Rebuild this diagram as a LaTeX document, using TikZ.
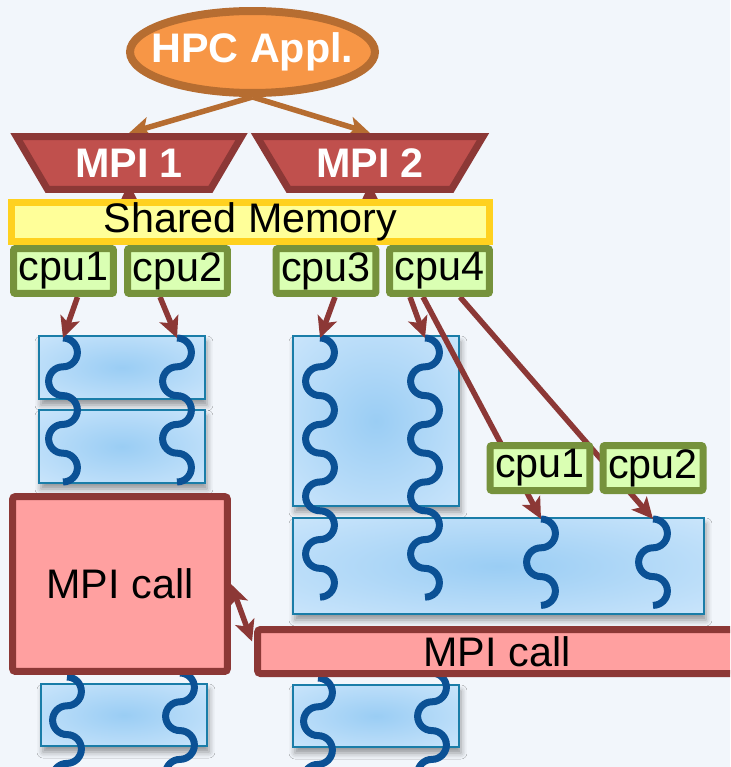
\documentclass[tikz,border=0pt]{standalone}
\usepackage{fontspec}
\setmainfont{Liberation Sans}
\usepackage{xcolor}
\usepackage{tikz}
\usetikzlibrary{arrows.meta, positioning}
\usetikzlibrary{shapes.geometric}
\usetikzlibrary{shadows.blur}
\definecolor{bgblue}{HTML}{F2F6FB}
\definecolor{applfill}{HTML}{F79646}
\definecolor{appldraw}{HTML}{B66D31}
\definecolor{mpifill}{HTML}{C0504D}
\definecolor{mpidraw}{HTML}{8C3836}
\definecolor{shmfill}{HTML}{FFFF99}
\definecolor{shmdraw}{HTML}{FFD11F}
\definecolor{cpufill}{HTML}{DAFFB3}
\definecolor{cpudraw}{HTML}{76923C}
\definecolor{ompin}{HTML}{9ACDF4}
\definecolor{ompmid}{HTML}{C2E1FA}
\definecolor{ompout}{HTML}{EEF6FE}
\definecolor{ompdraw}{HTML}{1A7DA8}
\definecolor{threadblue}{HTML}{0B5195}
\definecolor{callfill}{HTML}{FFA0A0}

\pgfdeclareradialshading{ompshade}{\pgfpoint{0bp}{0bp}}{%
    color(0bp)=(ompin); color(30bp)=(ompmid); color(62bp)=(ompout); color(100bp)=(ompout)}

\pgfdeclarelayer{boxes}
\pgfdeclarelayer{edges}
\pgfsetlayers{boxes,edges,main}

% wavy thread line: start coordinate, number of half waves
\newcommand{\thread}[2]{%
    \draw[thread] (#1) \foreach \k in {1,...,#2}{
        arc[start angle=90, end angle={270-360*mod(\k,2)}, radius=0.288cm]};}

\begin{document}
\begin{tikzpicture}[x=0.02cm, y=-0.02cm,
        font=\fontsize{23.5}{28}\selectfont,
        cpuarrow/.style={-{Stealth[length=0.42cm, width=0.4cm, inset=0.1cm]}, line width=0.11cm, draw=mpidraw},
        applarrow/.style={cpuarrow, draw=appldraw},
        cpu/.style={draw=cpudraw, fill=cpufill, line width=0.14cm, rounded corners=0.04cm,
            minimum width=2cm, minimum height=0.9cm, inner sep=0pt},
        omp/.style={draw=ompdraw, line width=0.04cm, shading=ompshade,
            minimum width=3.32cm,
            blur shadow={shadow xshift=0.04cm, shadow yshift=-0.12cm, shadow opacity=40, shadow blur radius=0.12cm}},
        thread/.style={draw=threadblue, line width=0.14cm},
        mpicall/.style={draw=mpidraw, fill=callfill, line width=0.14cm, rounded corners=0.06cm, inner sep=0pt},
        mpi/.style={trapezium, shape border rotate=180, trapezium angle=54, trapezium stretches=true,
            draw=mpidraw, fill=mpifill, line width=0.14cm, minimum width=4.54cm, minimum height=1.06cm,
            inner sep=0pt, text=white, font=\fontsize{23.5}{28}\selectfont\bfseries}]

    \useasboundingbox (0,0) rectangle (730,767);
    \clip (0,0) rectangle (730,767);

    \begin{pgfonlayer}{boxes}
        \fill[bgblue] (0,0) rectangle (730,767);
        % parallel regions
        \node[omp, minimum height=1.26cm] (omp1) at (122,367.5) {};
        \node[omp, minimum height=1.46cm] (omp2) at (122,446.5) {};
        \node[omp, minimum height=3.4cm] (omp3) at (376,421) {};
        \node[omp, minimum width=8.22cm, minimum height=1.92cm] (omp4) at (498.5,566) {};
        \node[omp, minimum height=1.24cm] (omp5) at (124,715) {};
        \node[omp, minimum height=1.24cm] (omp6) at (376,716) {};
        % threads
        \coordinate (t1) at (63,338);
        \coordinate (t2) at (177,338);
        \coordinate (t3) at (320,338);
        \coordinate (t4) at (425,338);
        \coordinate (t5) at (541,519);
        \coordinate (t6) at (653,519);
        \thread{t1}{5}
        \thread{t2}{5}
        \thread{t3}{9}
        \thread{t4}{9}
        \thread{t5}{3}
        \thread{t6}{3}
        \thread{67,677}{4}
        \thread{180,673}{4}
        \thread{318,678}{4}
        \thread{432,673}{4}
    \end{pgfonlayer}

    % application and processes
    \node[ellipse, draw=appldraw, fill=applfill, line width=0.16cm, minimum width=4.9cm, minimum height=1.64cm,
        inner xsep=-0.3cm, inner ysep=0pt, text=white, font=\fontsize{23.5}{28}\selectfont\bfseries] (appl) at (252.5,52) {HPC Appl.};
    \node[mpi] (mpia) at (129,163) {MPI 1};
    \node[mpi] (mpib) at (370,163) {MPI 2};
    \node[draw=shmdraw, fill=shmfill, line width=0.14cm, minimum width=9.56cm, minimum height=0.78cm,
        inner sep=0pt] (shm) at (250.5,222) {Shared Memory};

    \node[cpu] (cpu1) at (63.5,271) {cpu1};
    \node[cpu] (cpu2) at (177.5,271) {cpu2};
    \node[cpu] (cpu3) at (326,271) {cpu3};
    \node[cpu] (cpu4) at (439.5,271) {cpu4};
    \node[cpu] (cpu5) at (540,468) {cpu1};
    \node[cpu] (cpu6) at (653,468) {cpu2};

    \node[mpicall, minimum width=4.3cm, minimum height=3.5cm] (callL) at (120,584) {MPI call};
    \node[mpicall, minimum width=9.58cm, minimum height=0.88cm] (callR) at (497,651.5) {MPI call};

    \begin{pgfonlayer}{edges}
        \draw[applarrow] (appl.south) -- (mpia.north);
        \draw[applarrow] (appl.south) -- (mpib.north);
        \draw[cpuarrow] (mpia.south |- shm.center) -- ([yshift=0.2cm]mpia.south);
        \draw[cpuarrow] (mpib.south |- shm.center) -- ([yshift=0.2cm]mpib.south);
        \draw[cpuarrow] ([xshift=0.28cm]cpu1.south) -- (t1);
        \draw[cpuarrow] ([xshift=-0.35cm]cpu2.south) -- (t2);
        \draw[cpuarrow] ([xshift=0.18cm]cpu3.south) -- (t3);
        \draw[cpuarrow] ([xshift=-0.59cm]cpu4.south) -- (t4);
        \draw[cpuarrow] ([xshift=-0.33cm]cpu4.south) -- (t5);
        \draw[cpuarrow] ([xshift=0.41cm]cpu4.south) -- (t6);
        \draw[cpuarrow, {Stealth[length=0.42cm, width=0.4cm, inset=0.1cm]}-{Stealth[length=0.42cm, width=0.4cm, inset=0.1cm]}]
            (callL.east) -- ([xshift=-0.04cm, yshift=0.2cm]callR.west);
    \end{pgfonlayer}
\end{tikzpicture}
\end{document}
